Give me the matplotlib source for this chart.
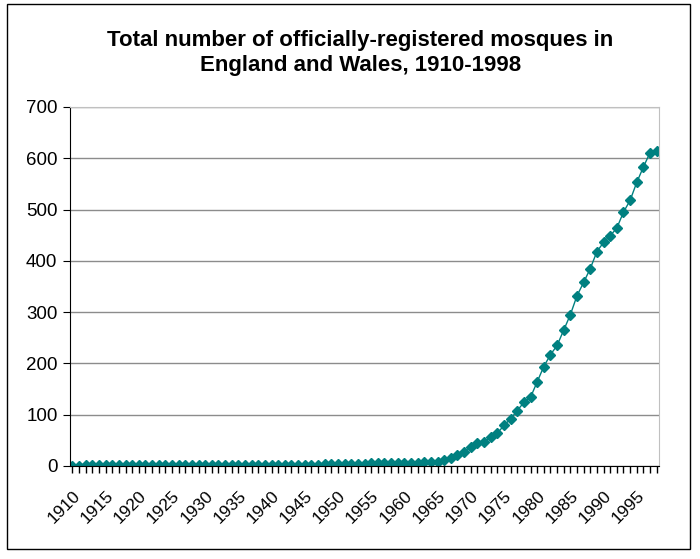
import numpy as np
import matplotlib.pyplot as plt
from matplotlib.patches import Rectangle

# years 1910..1998 and number of registered mosques
years = np.arange(1910, 1999)
mosques = [0, 0, 1, 1, 1, 2, 2, 2, 2, 2,      # 1910-1919
           2, 2, 2, 2, 2, 2, 2, 2, 2, 2,      # 1920-1929
           2, 2, 2, 2, 2, 2, 2, 2, 2, 2,      # 1930-1939
           2, 2, 2, 2, 2, 2, 2, 2, 3, 3,      # 1940-1949
           3, 3, 3, 4, 4, 5, 5, 5, 5, 5,      # 1950-1959
           5, 6, 6, 7, 8, 8, 12, 16, 21, 28,  # 1960-1969
           38, 44, 47, 56, 64, 79, 92, 108, 124, 134,  # 1970-1979
           164, 194, 217, 235, 265, 295, 332, 358, 385, 418,  # 1980-1989
           436, 449, 464, 495, 518, 553, 583, 611, 615]  # 1990-1998
label_years = list(range(1910, 1999, 5))
title = "Total number of officially-registered mosques in\nEngland and Wales, 1910-1998"

plt.rcParams['font.family'] = ['Liberation Sans', 'DejaVu Sans']

fig = plt.figure(figsize=(7, 5.59), dpi=100)
ax = fig.add_axes([70/700, 1-466/559, 589/700, 359/559])

# outer chart frame
fig.patches.append(Rectangle((7/700, 1-549/559), 683/700, 545/559,
                             transform=fig.transFigure, fill=False,
                             edgecolor='black', linewidth=1.0))

ax.plot(years, mosques, color='#008080', linewidth=1, marker='D',
        markersize=5.5, markerfacecolor='#008080', markeredgecolor='#008080')

ax.set_xlim(1909.64, 1998.35)
ax.set_ylim(0, 700)
ax.set_yticks(range(0, 701, 100))
ax.yaxis.grid(True, color='#8c8c8c', linewidth=1)
ax.set_axisbelow(True)

ax.set_xticks(years, minor=True)
ax.set_xticks(label_years)
ax.set_xticklabels([str(y) for y in label_years], rotation=45, ha='right',
                   va='top', rotation_mode='anchor', fontsize=12.5)
ax.tick_params(axis='x', which='both', length=5, direction='out', width=1,
               pad=11)
ax.tick_params(axis='y', length=5, direction='out', labelsize=13.5, pad=4)

for s in ['top', 'right']:
    ax.spines[s].set_color('#c0c0c0')
for s in ['left', 'bottom']:
    ax.spines[s].set_color('black')

fig.text(0.515, 1-53/559, title, ha='center', va='center', fontsize=16,
         fontweight='bold', linespacing=1.3)

fig.savefig('out.png', dpi=100)
